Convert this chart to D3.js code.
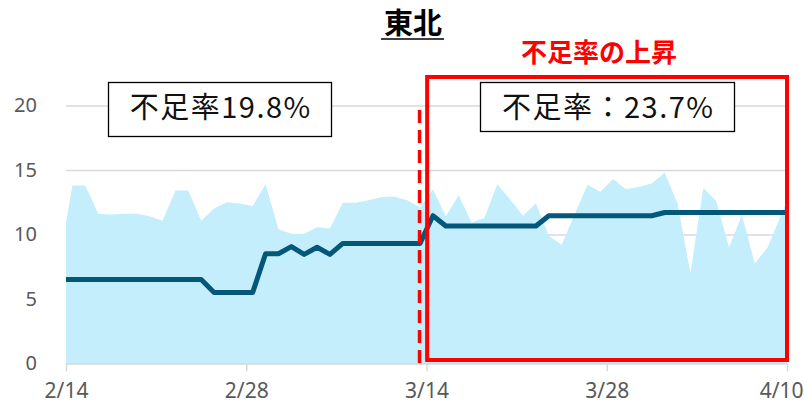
<!DOCTYPE html>
<html>
<head>
<meta charset="utf-8">
<script src="https://cdn.jsdelivr.net/npm/d3@7"></script>
<style>
  body { margin: 0; background: #fff; }
  svg { display: block; }
  .tick text { font-family: "Noto Sans", "Liberation Sans", sans-serif; fill: #595959; }
  .jp { font-family: "Noto Sans CJK JP", sans-serif; }
</style>
</head>
<body>
<div id="chart"></div>
<script>
// daily values, one per category (2/14 .. 4/10), plotted at category centres
const supply = [13.8, 13.8, 11.6, 11.55, 11.6, 11.6, 11.4, 11.05, 13.4, 13.4,
  11.05, 12.0, 12.5, 12.4, 12.2, 13.9, 10.4, 10.05, 10.05, 10.55,
  10.45, 12.45, 12.45, 12.65, 12.9, 12.95, 12.65, 12.1, 13.5, 11.4,
  13.05, 10.9, 11.3, 13.9, 12.7, 11.45, 12.4, 9.9, 9.2, 11.55,
  13.85, 13.3, 14.3, 13.5, 13.7, 13.95, 14.8, 12.4, 7.0, 13.6,
  12.6, 9.0, 11.5, 7.75, 9.0, 11.4];
const level = [6.5, 6.5, 6.5, 6.5, 6.5, 6.5, 6.5, 6.5, 6.5, 6.5,
  6.5, 5.5, 5.5, 5.5, 5.5, 8.5, 8.5, 9.05, 8.45, 9.0,
  8.45, 9.3, 9.3, 9.3, 9.3, 9.3, 9.3, 9.3, 11.45, 10.65,
  10.65, 10.65, 10.65, 10.65, 10.65, 10.65, 10.65, 11.45, 11.45, 11.45,
  11.45, 11.45, 11.45, 11.45, 11.45, 11.45, 11.7, 11.7, 11.7, 11.7,
  11.7, 11.7, 11.7, 11.7, 11.7, 11.7];
// values where the series meet the left / right plot edges
const supplyEdge = [10.95, 12.6];
const levelEdge = [6.5, 11.7];

const tickPos = [0, 14, 28, 42, 56];
const tickLabels = ["2/14", "2/28", "3/14", "3/28", "4/10"];
const yTicks = [0, 5, 10, 15, 20];

const width = 804, height = 405;
const margin = { top: 105.5, right: 17, bottom: 41.7, left: 66 };

const svg = d3.select("#chart").append("svg")
  .attr("width", width)
  .attr("height", height);

const x = d3.scaleLinear().domain([0, 56]).range([margin.left, width - margin.right]);
const y = d3.scaleLinear().domain([0, 20]).range([height - margin.bottom, margin.top]);

// category centres plus the two edge points
function withEdges(vals, edge) {
  const pts = [{ p: 0, v: edge[0] }];
  vals.forEach((v, i) => pts.push({ p: i + 0.5, v: v }));
  pts.push({ p: 56, v: edge[1] });
  return pts;
}
const supplyPts = withEdges(supply, supplyEdge);
const levelPts = withEdges(level, levelEdge);

// gridlines + y labels
const yAxis = d3.axisLeft(y)
  .tickValues(yTicks)
  .tickSize(-(x(56) - x(0)))
  .tickPadding(29);
const yg = svg.append("g")
  .attr("transform", `translate(${x(0)},0)`)
  .call(yAxis);
yg.select(".domain").remove();
yg.selectAll(".tick line").attr("stroke", "#d9d9d9").attr("stroke-width", 1.5);
yg.selectAll(".tick text").style("font-size", "20px");

// area
svg.append("path")
  .datum(supplyPts)
  .attr("fill", "#c5eefd")
  .attr("d", d3.area().x(d => x(d.p)).y0(y(0)).y1(d => y(d.v)));

// x axis
const xAxis = d3.axisBottom(x)
  .tickValues(tickPos)
  .tickFormat((d, i) => tickLabels[i])
  .tickSize(8)
  .tickSizeOuter(0)
  .tickPadding(12);
const xg = svg.append("g")
  .attr("transform", `translate(0,${y(0)})`)
  .call(xAxis);
xg.select(".domain").attr("stroke", "#d9d9d9").attr("stroke-width", 1.5);
xg.selectAll(".tick line").attr("stroke", "#d9d9d9").attr("stroke-width", 1.5);
xg.selectAll(".tick text").style("font-size", "21px");
// last label sits against the right edge
xg.selectAll(".tick text")
  .filter((d, i) => i === tickPos.length - 1)
  .attr("text-anchor", "end")
  .attr("x", 16);

// line
svg.append("path")
  .datum(levelPts)
  .attr("fill", "none")
  .attr("stroke", "#03587a")
  .attr("stroke-width", 5)
  .attr("stroke-linejoin", "round")
  .attr("d", d3.line().x(d => x(d.p)).y(d => y(d.v)));

// dashed divider at 3/13
svg.append("line")
  .attr("x1", x(27.46)).attr("x2", x(27.46))
  .attr("y1", 110).attr("y2", y(0) + 2)
  .attr("stroke", "#ff0000")
  .attr("stroke-width", 3.5)
  .attr("stroke-dasharray", "13,7");

// red highlight frame
svg.append("rect")
  .attr("x", x(28.05)).attr("y", 77)
  .attr("width", x(56) - x(28.05)).attr("height", 360 - 77)
  .attr("fill", "none")
  .attr("stroke", "#ff0000")
  .attr("stroke-width", 4);

// title
svg.append("text")
  .attr("class", "jp")
  .attr("x", 413).attr("y", 34)
  .attr("text-anchor", "middle")
  .style("font-size", "29px").style("font-weight", "bold")
  .text("東北");
svg.append("line")
  .attr("x1", 381).attr("x2", 444)
  .attr("y1", 39).attr("y2", 39)
  .attr("stroke", "#000").attr("stroke-width", 1.5);

svg.append("text")
  .attr("class", "jp")
  .attr("x", 599).attr("y", 62)
  .attr("text-anchor", "middle")
  .attr("fill", "#ff0000")
  .style("font-size", "26px").style("font-weight", "bold")
  .text("不足率の上昇");

// annotation boxes
const boxes = [
  { x: 108.5, y: 82.5, w: 223, h: 54, label: "不足率19.8%" },
  { x: 480.5, y: 82.5, w: 254, h: 49, label: "不足率：23.7%" }
];
boxes.forEach(b => {
  svg.append("rect")
    .attr("x", b.x).attr("y", b.y)
    .attr("width", b.w).attr("height", b.h)
    .attr("fill", "#fff")
    .attr("stroke", "#000")
    .attr("stroke-width", 1.3);
  svg.append("text")
    .attr("class", "jp")
    .attr("x", b.x + b.w / 2 + 0.75).attr("y", 118)
    .attr("text-anchor", "middle")
    .attr("fill", "#111")
    .style("font-size", "29px")
    .style("letter-spacing", "1.5px")
    .text(b.label);
});
</script>
</body>
</html>
